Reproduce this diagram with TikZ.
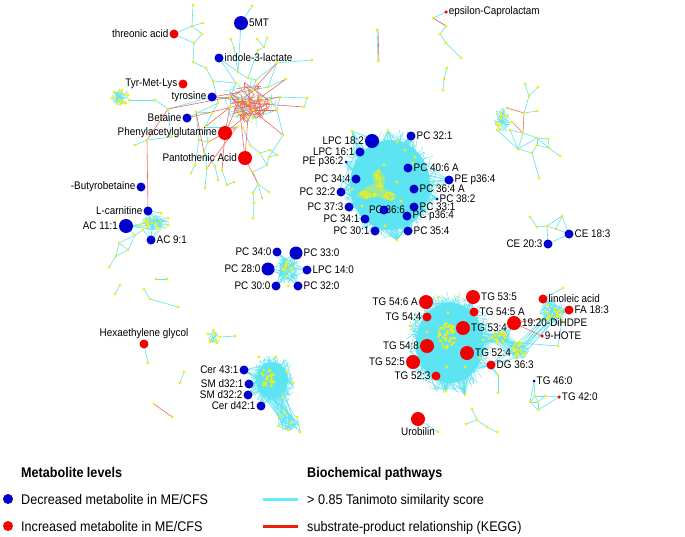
\documentclass[tikz,border=0pt]{standalone}
\usepackage{fontspec}
\setmainfont{Liberation Sans}[FakeStretch=0.9]
\definecolor{cyanE}{RGB}{92,228,242}
\definecolor{redE}{RGB}{240,105,85}
\definecolor{yel}{RGB}{238,238,30}
\definecolor{blueN}{RGB}{0,0,205}
\definecolor{redN}{RGB}{245,0,0}
\definecolor{legRed}{RGB}{235,30,10}
\definecolor{legCyan}{RGB}{100,235,250}
\tikzset{
 ce/.style={draw=cyanE, line width=0.6pt},
 cf/.style={draw=cyanE, line width=0.4pt},
 re/.style={draw=redE, line width=0.6pt},
 lab/.style={font=\fontsize{11}{12}\selectfont, inner sep=0.2pt, text=black},
 leg/.style={font=\fontsize{14}{16}\selectfont, inner sep=0pt, text=black},
 bnode/.style={circle, fill=blueN, inner sep=0pt},
 rnode/.style={circle, fill=redN, inner sep=0pt},
}
\newcommand\myfib[6]{%
  \foreach \ii in {1,...,#6}{%
    \pgfmathsetmacro\mya{360*rnd}\pgfmathsetmacro\myr{sqrt(rnd)}%
    \pgfmathsetmacro\myb{360*rnd}\pgfmathsetmacro\mys{sqrt(rnd)}%
    \draw[#1] ({#2+#4*\myr*cos(\mya)},{#3+#5*\myr*sin(\mya)}) -- ({#2+#4*\mys*cos(\myb)},{#3+#5*\mys*sin(\myb)});
  }}
\newcommand\myspray[7]{%
  \foreach \ii in {1,...,#7}{%
    \pgfmathsetmacro\mya{360*rnd}\pgfmathsetmacro\myr{sqrt(rnd)}%
    \draw[#1] (#2) -- ({#3+#5*\myr*cos(\mya)},{#4+#6*\myr*sin(\mya)});
  }}
\newcommand\mybridge[9]{%
  \foreach \ii in {1,...,#9}{%
    \pgfmathsetmacro\mya{360*rnd}\pgfmathsetmacro\myr{sqrt(rnd)}%
    \pgfmathsetmacro\myb{360*rnd}\pgfmathsetmacro\mys{sqrt(rnd)}%
    \draw[cf] ({#1+#3*\myr*cos(\mya)},{#2+#4*\myr*sin(\mya)}) -- ({#5+#7*\mys*cos(\myb)},{#6+#8*\mys*sin(\myb)});
  }}
\newcommand\mydots[5]{%
  \foreach \ii in {1,...,#5}{%
    \pgfmathsetmacro\mya{360*rnd}\pgfmathsetmacro\myr{sqrt(rnd)}%
    \fill[yel] ({#1+#3*\myr*cos(\mya)},{#2+#4*\myr*sin(\mya)}) circle (1.4pt);
  }}
\def\blist{fiveMT/241/23/14/5MT/right, indole/219/58/9/indole-3-lactate/right, tyrosine/212/97/9/tyrosine/left, betaine/187/118/9/Betaine/left, butyro/141/187/9/-Butyrobetaine/left, carnitine/148/211/9/L-carnitine/left, ac111/126/226/14/AC 11:1/left, ac91/151/240/9/AC 9:1/right, lpc182/372/141/14/LPC 18:2/left, pc321/411/136/9/PC 32:1/right, lpc161/360/152/9/LPC 16:1/left, pep362/346/162/3/PE p36:2/left, pc406/408/168/9/PC 40:6 A/right, pep364/449/180/9/PE p36:4/right, pc344/356/179/9/PC 34:4/left, pc364/414/189/9/PC 36:4 A/right, pc322/341/192/9/PC 32:2/left, pc382/437/199/3/PC 38:2/right, pc373/349/207/9/PC 37:3/left, pc331/414/207/9/PC 33:1/right, pcp364/407/216/9/PC p36:4/right, pc341/365/219/9/PC 34:1/left, pc301/375/231/9/PC 30:1/left, pc354/408/231/9/PC 35:4/right, ce203/548/244/9/CE 20:3/left, ce183/569/234/9/CE 18:3/right, pc340/277/252/9/PC 34:0/left, pc330/296/253/13/PC 33:0/right, pc280/268/269/13/PC 28:0/left, lpc140/307/270/9/LPC 14:0/right, pc300/276/286/9/PC 30:0/left, pc320/298/286/9/PC 32:0/right, cer431/244/370/9/Cer 43:1/left, smd321/249/384/9/SM d32:1/left, smd322/248/395/9/SM d32:2/left, cerd421/261/406/9/Cer d42:1/left, tg460/534/381/3/TG 46:0/right}
\def\rlist{threonic/174/34/9/threonic acid/left, tyrmet/183/84/9/Tyr-Met-Lys/left, phenyl/225/133/14/Phenylacetylglutamine/left, panto/245/158/14/Pantothenic Acid/left, eps/446/12/3.5/epsilon-Caprolactam/right, hexa/144/344/9/Hexaethylene glycol/above, tg546/426/302/14/TG 54:6 A/left, tg535/473/297/14/TG 53:5/right, tg544/427/317/9/TG 54:4/left, tg545/474/312/9/TG 54:5 A/right, tg534/463/328/14/TG 53:4/right, dihdpe/514/323/14/19:20-DiHDPE/right, linoleic/543/299/9/linoleic acid/right, fa183/569/310/9/FA 18:3/right, hote/542/336/3.5/9-HOTE/right, tg548/427/346/14/TG 54:8/left, tg524/467/353/14/TG 52:4/right, tg525/413/362/14/TG 52:5/left, dg363/491/365/9/DG 36:3/right, tg523/436/376/9/TG 52:3/left, tg420/559/397/3.5/TG 42:0/right, urobilin/418/419/14/Urobilin/below}
\def\ylist{y1/193/5, y2/192/26, y3/203/23, y4/202/34, y5/194/43, y6/231/39, y7/234/48, y8/252/6, y9/257/39, y10/267/38, y11/264/47, y12/258/50, y13/193/62, y14/206/68, y15/213/81, y16/238/72, y17/248/78, y18/256/80, y19/277/63, y20/312/60, y21/236/83, y22/253/90, y23/230/97, y24/240/100, y25/248/103, y26/260/98, y27/268/87, y28/280/97, y29/270/100, y30/277/110, y31/253/110, y32/240/113, y33/248/117, y34/253/118, y35/230/107, y36/218/103, y37/212/113, y38/237/127, y39/243/128, y40/286/79, y41/307/98, y42/304/107, y43/283/135, y44/269/157, y46/155/100, y47/168/109, y49/196/112, y50/205/127, y51/208/142, y52/199/140, y53/204/152, y55/171/137, y56/147/140, y57/135/145, y60/195/165, y61/207/168, y62/215/166, y63/222/170, y64/218/180, y65/205/188, y66/227/185, y67/234/182, y68/191/173, y71/250/145, y72/260/153, y73/270/150, y74/277/155, y75/267/165, y76/253/172, y77/258/184, y78/253/193, y79/262/198, y80/269/192, y81/254/203, y82/253/218, tm1/114/92, tm2/122/90, tm3/128/95, tm4/126/103, tm5/117/104, tm6/112/98, tm8/129/100, a1/161/213, a2/168/218, a3/168/225, a4/160/228, a5/152/223, a6/147/227, a7/143/230, a8/140/225, a9/135/235, a10/119/243, a11/128/250, a12/116/256, a13/109/267, a14/146/220, s1/156/279, s2/167/279, s3/120/285, s4/115/294, s5/144/289, s6/150/299, s7/178/307, s8/148/363, s9/184/372, s10/180/383, s11/154/404, s12/172/417, b1/213/330, b2/208/334, b3/220/337, b4/217/343, b5/210/342, b6/235/336, c1/259/357, c2/276/357, c3/287/372, c4/293/383, c5/283/397, c6/285/413, c7/297/417, c8/280/416, c9/291/423, c10/288/430, c11/278/426, c12/300/432, d1/287/262, d2/283/269, d3/292/268, d4/287/276, d5/288/286, pca/352/131, pcb/388/131, pcc/397/142, pcd/415/157, pce/413/163, pcf/384/165, pcg/397/182, pch/352/189, pci/401/201, pcj/385/226, pck/397/240, pcl/405/150, pcm/362/206, tga/446/391, tgb/465/395, tgc/438/298, tgd/458/297, tge/448/313, tgf/427/332, tgg/410/326, tgh/447/367, tgi/465/367, tgj/483/340, tgk/480/358, t3/498/375, t4/498/393, ln1/563/288, ln2/558/346, ln3/540/319, ln4/548/305, ln5/562/320, g1/530/402, g2/538/402, g3/538/410, g4/545/396, g5/535/396, k1/472/409, k2/477/420, k3/466/424, k4/487/427, k5/497/432, u1/438/432, e1/530/217, e2/537/227, e3/547/226, e4/556/229, e5/562/216, r1/525/84, r2/538/87, r3/529/96, r4/537/111, r5/524/113, r6/523/133, r7/537/138, r8/548/139, r9/549/148, r10/537/145, r11/518/149, r12/532/153, r13/560/156, r14/539/178, rb1/497/130, rb2/510/130, rb3/507/108, rb4/512/122, p1/433/18, p2/446/26, p3/440/34, p4/446/43, p5/461/58, q1/447/68, q2/444/79, q3/443/90, v1/377/30, v2/378/61}
\def\celist{y1/y2, y2/y3, y2/y4, threonic/y2, threonic/y5, y4/y5, y5/y13, y13/y14, y14/y15, y15/y21, y15/y36, y6/y7, y7/y16, fiveMT/y8, fiveMT/y16, y9/y11, y10/y11, y11/y12, y12/y17, y16/y17, y17/y18, y18/y22, indole/y16, indole/y21, y19/y20, y18/y19, y19/y27, y22/y27, y27/y40, y28/y30, y29/y30, y26/y28, y28/y41, y41/y42, y30/y43, y43/y44, y30/y34, tm8/y46, y46/y47, y47/tyrosine, tyrosine/y23, betaine/y36, y49/y37, y50/y51, y51/y52, y52/y49, y53/y51, y55/y56, y56/y57, y55/y47, y52/y60, y60/y68, y53/y61, y61/y65, y62/y64, y63/y66, y66/y67, y53/y62, y71/y72, y72/y73, y73/y74, y72/y75, y75/y76, y76/y77, y77/y78, y77/y79, y77/y80, y78/y81, y81/y82, y37/y50, y38/y50, y39/y71, y44/y75, y21/y23, y23/y35, y24/y32, y36/y37, y44/y74, carnitine/a14, carnitine/a1, ac111/a8, ac91/a7, a9/a10, a9/a11, a10/a11, a10/a12, a11/a12, a12/a13, a7/a9, ac111/a9, s1/s2, s3/s4, s5/s6, s6/s7, hexa/s8, s9/s10, b3/b6, tg460/g5, tg460/g1, g5/g4, g4/tg420, g1/g2, g2/g3, g3/g1, g2/g4, g3/tg420, g5/g1, g5/g2, k1/k2, k2/k3, k2/k4, k4/k5, urobilin/u1, e1/e2, e2/e3, e3/e5, e3/e4, e4/e5, e5/ce183, e4/ce183, ce203/e3, ce203/ce183, r1/r3, r2/r3, r3/r5, r4/r5, r6/r7, r7/r8, r8/r9, r7/r10, r10/r9, r6/r11, r11/r12, r10/r12, r12/r14, r9/r13, r7/r9, rb2/r11, rb2/r6, r11/r7, rb1/r11, eps/p1, p1/p2, p2/p3, p3/p4, p4/p5, q1/q2, q2/q3, v1/v2, dg363/t3, t3/t4, tgk/t3, ln1/linoleic, ln4/linoleic, ln5/ln2, ln2/tgj, c5/c8, c6/c9, c7/c12, c9/c12}
\def\relist{panto/y77, panto/y32, panto/y33, phenyl/y24, phenyl/y31, phenyl/y35, phenyl/y38, phenyl/y63, betaine/y25, tyrosine/y24, tyrosine/y22, y35/y50, y24/y43, y25/y28, y31/y30, y26/y40, y22/y19, carnitine/y56, y56/y47, y47/y23, y25/y42, y49/y53, phenyl/y51, rb3/r5, rb4/r6, r5/r6, p1/p2, s11/s12, dihdpe/hote, dihdpe/ln3, y38/y61}
\begin{document}
\begin{tikzpicture}[x=1pt,y=-1pt]
\useasboundingbox (0,0) rectangle (685,536);
\fill[white] (0,0) rectangle (685,536);
\pgfmathsetseed{7}
% coordinates
\foreach \n/\x/\y/\s/\t/\p in \blist {\coordinate (\n) at (\x,\y);}
\foreach \n/\x/\y/\s/\t/\p in \rlist {\coordinate (\n) at (\x,\y);}
\foreach \n/\x/\y in \ylist {\coordinate (\n) at (\x,\y);}
\coordinate (pc366) at (384,210);
% dense cluster fills
\fill[cyanE] (390,185) ellipse [x radius=40pt, y radius=45pt];
\fill[cyanE] (450,343) ellipse [x radius=34pt, y radius=40pt];
\fill[cyanE] (272,380) ellipse [x radius=16pt, y radius=18pt];
% PC cluster fibres
\myfib{cf}{390}{183}{50}{56}{240}
\foreach \n in {lpc182,pc321,lpc161,pep362,pc406,pep364,pc344,pc364,pc322,pc382,pc373,pc331,pc366,pcp364,pc341,pc301,pc354}{\myspray{cf}{\n}{390}{185}{38}{42}{10}}
\myspray{cf}{pck}{392}{200}{35}{30}{22}
\myspray{cf}{pca}{385}{175}{35}{35}{10}
\myspray{cf}{pcb}{390}{175}{35}{35}{10}
% TG cluster fibres
\myfib{cf}{450}{343}{44}{52}{240}
\foreach \n in {tg546,tg535,tg544,tg545,tg534,tg548,tg524,tg525,tg523,dg363}{\myspray{cf}{\n}{450}{343}{32}{40}{10}}
\myspray{cf}{tga}{448}{350}{30}{30}{16}
\myspray{cf}{tgb}{452}{350}{30}{30}{16}
\mybridge{462}{336}{18}{20}{500}{337}{10}{7}{30}
\mybridge{500}{337}{10}{7}{519}{350}{10}{9}{25}
\mybridge{519}{350}{9}{9}{553}{313}{10}{10}{12}
\myfib{cf}{500}{337}{11}{8}{30}
\myfib{cf}{519}{350}{11}{10}{30}
\myfib{cf}{553}{312}{14}{13}{60}
\myspray{cf}{dihdpe}{499}{337}{9}{6}{8}
\myspray{cf}{linoleic}{553}{313}{9}{9}{6}
\myspray{cf}{fa183}{553}{313}{9}{9}{6}
\myspray{cf}{dg363}{519}{350}{9}{9}{5}
% Cer cluster
\myfib{cf}{273}{381}{23}{26}{160}
\foreach \n in {cer431,smd321,smd322,cerd421}{\myspray{cf}{\n}{272}{380}{15}{18}{8}}
\mybridge{276}{394}{14}{10}{289}{423}{10}{8}{30}
\myfib{cf}{289}{423}{11}{9}{30}
% PC 28:0 cluster
\myfib{cf}{288}{270}{12}{14}{60}
\foreach \n in {pc340,pc330,pc280,lpc140,pc300,pc320}{\myspray{cf}{\n}{288}{270}{10}{10}{6}}
% AC cluster
\myfib{cf}{155}{223}{15}{8}{45}
\foreach \n in {carnitine,ac111,ac91}{\myspray{cf}{\n}{155}{223}{12}{7}{5}}
% small blobs
\myfib{cf}{120}{97}{9}{9}{35}
\myfib{cf}{214}{337}{7}{7}{18}
\myfib{cf}{502}{120}{9}{13}{35}
\myfib{cf}{250}{102}{28}{26}{25}
% hub edges
\foreach \a/\b in \celist {\draw[ce] (\a) -- (\b);}
\myfib{re}{250}{102}{21}{21}{45}
\foreach \a/\b in \relist {\draw[re] (\a) -- (\b);}
\draw[re] ([xshift=1pt]v1) -- ([xshift=1pt]v2);
% yellow dots
\fill[yel, opacity=0.45] plot[smooth cycle] coordinates {(378,170) (385,178) (384,188) (396,195) (391,201) (378,197) (365,199) (357,195) (365,188) (374,183) (372,175)};
\mydots{378}{176}{3}{6}{12}
\mydots{381}{187}{4}{4}{10}
\mydots{368}{194}{8}{4}{18}
\mydots{389}{196}{6}{4}{12}
\mydots{447}{336}{9}{13}{60}
\mydots{499}{337}{9}{6}{25}
\mydots{519}{350}{8}{8}{25}
\mydots{553}{313}{9}{9}{20}
\mydots{268}{378}{7}{10}{35}
\mydots{288}{269}{4}{5}{8}
\mydots{120}{97}{7}{7}{12}
\mydots{214}{337}{5}{5}{6}
\mydots{502}{120}{7}{10}{12}
\mydots{155}{223}{12}{6}{10}
\foreach \n/\x/\y in \ylist {\fill[yel] (\n) circle (1.7pt);}
% labelled metabolites
\foreach \n/\x/\y/\s/\t/\p in \blist {\node[bnode, minimum size=\s pt, label={[lab, label distance=0.6pt]\p:{\t}}] (\n) at (\x,\y) {};}
\foreach \n/\x/\y/\s/\t/\p in \rlist {\node[rnode, minimum size=\s pt, label={[lab, label distance=0.6pt]\p:{\t}}] (\n) at (\x,\y) {};}
\node[bnode, minimum size=9pt] (pc366) at (384,210) {};
\node[lab] (pc366l) at (387,210) {PC 36:6};
% legend
\node[leg, font=\fontsize{14}{16}\selectfont\bfseries, anchor=base west] (legA) at (21,477) {Metabolite levels};
\node[circle, fill=blueN, inner sep=0pt, minimum size=10pt] (legBd) at (8,499) {};
\node[leg, anchor=base west] (legBt) at (21,504) {Decreased metabolite in ME/CFS};
\node[circle, fill=redN, inner sep=0pt, minimum size=10pt] (legCd) at (8,526) {};
\node[leg, anchor=base west] (legCt) at (21,531) {Increased metabolite in ME/CFS};
\node[leg, font=\fontsize{14}{16}\selectfont\bfseries, anchor=base west] (legD) at (307,477) {Biochemical pathways};
\coordinate (lc1) at (263,499); \coordinate (lc2) at (298,499);
\coordinate (lr1) at (263,526); \coordinate (lr2) at (298,526);
\draw[legCyan, line width=3pt] (lc1) -- (lc2);
\draw[legRed, line width=3pt] (lr1) -- (lr2);
\node[leg, anchor=base west] (legEt) at (307,504) {> 0.85 Tanimoto similarity score};
\node[leg, anchor=base west] (legFt) at (307,531) {substrate-product relationship (KEGG)};
\end{tikzpicture}
\end{document}
